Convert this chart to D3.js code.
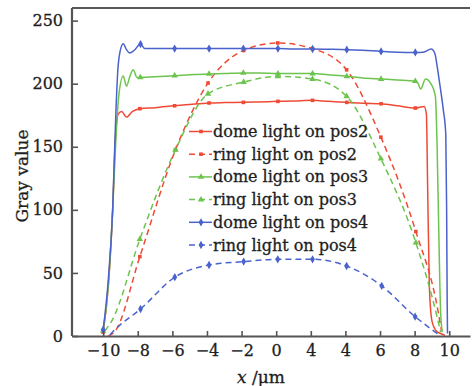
<!DOCTYPE html>
<html>
<head>
<meta charset="utf-8">
<script src="https://cdn.jsdelivr.net/npm/d3@7"></script>
<style>
  html, body { margin: 0; padding: 0; background: #fff; }
  svg { display: block; }
  text { font-family: "DejaVu Serif", "Liberation Serif", serif; fill: #1e1e1e; stroke: #1e1e1e; stroke-width: 0.3px; }
</style>
</head>
<body>
<svg id="chart" width="476" height="386"></svg>
<script>
// Gray-value profiles across the feature, x in µm
const xTicks = [-10, -8, -6, -4, -2, 0, 2, 4, 6, 8, 10];
const xTickLabels = ["\u221210", "\u22128", "\u22126", "\u22124", "\u22122", "0", "4", "4", "6", "8", "10"];
const yTicks = [0, 50, 100, 150, 200, 250];

// dome light on pos2
const domePos2X = [-10, -9.7, -9.45, -9.3, -9.13, -8.93, -8.65, -8.3, -7.88, -7, -5.87, -5, -3.88, -3, -1.9, -1, 0.1, 1, 2.1, 3, 4.08, 5, 6.06, 7, 8.04, 8.55, 8.68, 8.75, 8.85, 9.0, 9.25, 9.5, 9.75];
const domePos2Y = [3, 40, 100, 155, 176, 178, 173.5, 178, 180.2, 181, 182.5, 183.5, 184.7, 185, 185.2, 185.5, 186, 186.3, 186.8, 186, 185.2, 184.5, 184.1, 182.5, 180.7, 182, 176, 120, 40, 12, 4, 2, 0.5];

// ring light on pos2
const ringPos2X = [-9.7, -9.3, -7.88, -5.82, -3.94, -1.88, 0.09, 2.1, 4.07, 6.05, 8.07, 9.35, 9.55];
const ringPos2Y = [0, 4, 62.9, 147.6, 200.5, 226.4, 232.3, 227.8, 211, 157.6, 82.8, 20, 4];

// dome light on pos3
const domePos3X = [-10, -9.7, -9.45, -9.25, -9.1, -8.84, -8.65, -8.45, -8.26, -8.05, -7.85, -7, -5.87, -5, -3.88, -3, -1.9, -1, 0.1, 1, 2.1, 3, 4.08, 5, 6.06, 7, 8.04, 8.2, 8.35, 8.63, 8.92, 9.2, 9.3, 9.4, 9.5, 9.6];
const domePos3Y = [4, 40, 100, 160, 190, 206, 198, 206, 211, 205, 205, 205.5, 206.3, 207, 207.7, 208, 208.5, 208.5, 208, 208, 208, 207, 205.8, 204.5, 203.7, 203, 202, 200, 195.8, 203.7, 200.5, 190, 150, 80, 20, 3];

// ring light on pos3
const ringPos3X = [-9.9, -9.5, -7.88, -5.82, -3.94, -1.88, 0.09, 2.1, 4.07, 6.05, 8.07, 9.3, 9.5];
const ringPos3Y = [4, 12, 76.7, 147.6, 192, 201.3, 205.8, 203.7, 190, 140.5, 74, 15, 3];

// dome light on pos4
const domePos4X = [-10, -9.7, -9.45, -9.26, -9.15, -9.03, -8.84, -8.65, -8.47, -8.2, -7.84, -7.59, -7, -5.87, -5, -3.88, -3, -1.9, -1, 0.1, 1, 2.1, 3, 4.08, 5, 6.06, 7, 8.04, 8.5, 8.96, 9.17, 9.3, 9.45, 9.65, 9.8, 9.85, 9.88, 9.9];
const domePos4Y = [5, 45, 100, 179, 211, 225, 231.7, 227, 224.4, 226.5, 231.4, 227.8, 227.8, 227.8, 227.8, 227.8, 227.8, 227.8, 227.8, 227.8, 227.5, 227.5, 227.3, 227, 226.5, 225.6, 225, 224.8, 225, 227.5, 224, 214, 200, 180, 160, 100, 30, 2];

// ring light on pos4
const ringPos4X = [-9.6, -9.4, -7.84, -5.86, -3.88, -1.88, 0.09, 2.1, 4.07, 6.1, 8.03, 9.4];
const ringPos4Y = [1, 4, 21.4, 46.6, 56.3, 59, 60.8, 60.8, 55.5, 39.7, 15.3, 1];

// x positions that carry a marker symbol
const domeMarkX = [-10, -7.88, -7.85, -7.84, -5.87, -3.88, -1.9, 0.1, 2.1, 4.08, 6.06, 8.04];
const ringMarkX = [-7.88, -7.84, -5.82, -5.86, -3.94, -3.88, -1.88, 0.09, 2.1, 4.07, 6.05, 6.1, 8.07, 8.03];

const seriesNames = ["dome light on pos2", "ring light on pos2", "dome light on pos3", "ring light on pos3", "dome light on pos4", "ring light on pos4"];
const seriesColors = ["#ef4a35", "#ef4a35", "#6cc44e", "#6cc44e", "#4a62cc", "#4a62cc"];
const seriesDashed = [false, true, false, true, false, true];
const seriesSymbols = [d3.symbolSquare, d3.symbolSquare, d3.symbolTriangle, d3.symbolTriangle, d3.symbolDiamond, d3.symbolDiamond];
const seriesX = [domePos2X, ringPos2X, domePos3X, ringPos3X, domePos4X, ringPos4X];
const seriesY = [domePos2Y, ringPos2Y, domePos3Y, ringPos3Y, domePos4Y, ringPos4Y];

const svg = d3.select("#chart");
const plotLeft = 72, plotRight = 470, plotTop = 8, plotBottom = 336;

const x = d3.scaleLinear().domain([-11.8, 11.2]).range([plotLeft, plotRight]);
const y = d3.scaleLinear().domain([0, 260]).range([plotBottom, plotTop]);

svg.append("defs").append("clipPath").attr("id", "plotClip")
  .append("rect").attr("x", plotLeft).attr("y", plotTop)
  .attr("width", plotRight - plotLeft).attr("height", plotBottom - plotTop);

// top frame line
svg.append("line")
  .attr("x1", plotLeft).attr("x2", plotRight).attr("y1", plotTop).attr("y2", plotTop)
  .attr("stroke", "#222").attr("stroke-width", 1.6);

const line = d3.line().x(d => x(d[0])).y(d => y(d[1])).curve(d3.curveMonotoneX);
const plot = svg.append("g").attr("clip-path", "url(#plotClip)");

const symbolSize = [13, 13, 18, 18, 20, 20];

seriesNames.forEach((name, i) => {
  const pts = seriesX[i].map((v, k) => [v, seriesY[i][k]]);
  plot.append("path")
    .datum(pts)
    .attr("d", line)
    .attr("fill", "none")
    .attr("stroke", seriesColors[i])
    .attr("stroke-width", 1.5)
    .attr("stroke-dasharray", seriesDashed[i] ? "6,4" : null);
  const marks = seriesDashed[i] ? ringMarkX : domeMarkX;
  const mpts = pts.filter(p => marks.includes(p[0]));
  plot.selectAll(null).data(mpts).enter().append("path")
    .attr("d", d3.symbol().type(seriesSymbols[i]).size(symbolSize[i]))
    .attr("transform", d => `translate(${x(d[0])},${y(d[1])})`)
    .attr("fill", seriesColors[i]);
});

// axes
const axisColor = "#555";
const yAxis = svg.append("g").attr("transform", `translate(${plotLeft},0)`)
  .call(d3.axisLeft(y).tickValues(yTicks).tickSize(-6).tickSizeOuter(0).tickPadding(9));
const xAxis = svg.append("g").attr("transform", `translate(0,${plotBottom})`)
  .call(d3.axisBottom(x).tickValues(xTicks).tickFormat((d, i) => xTickLabels[i]).tickSize(-5).tickSizeOuter(0).tickPadding(9));

[yAxis, xAxis].forEach(g => {
  g.select(".domain").attr("stroke", axisColor).attr("stroke-width", 2.2);
  g.selectAll(".tick line").attr("stroke", axisColor).attr("stroke-width", 1.6);
  g.selectAll(".tick text")
    .attr("font-family", '"DejaVu Serif", serif')
    .attr("font-size", 16)
    .attr("fill", "#1e1e1e");
});
// left axis spans the full frame height
yAxis.select(".domain").attr("d", `M0,${plotBottom}V${plotTop}`);

// axis titles
svg.append("text")
  .attr("transform", `translate(22,176) rotate(-90)`)
  .attr("text-anchor", "middle")
  .attr("dominant-baseline", "central")
  .attr("font-size", 17)
  .text("Gray value");

const xt = svg.append("text")
  .attr("x", 261).attr("y", 383)
  .attr("text-anchor", "middle")
  .attr("font-size", 17);
xt.append("tspan").attr("font-style", "italic").text("x");
xt.append("tspan").text(" /\u03bcm");

// legend
const legend = svg.append("g");
seriesNames.forEach((name, i) => {
  const cy = 131.5 + i * 22.7;
  legend.append("line")
    .attr("x1", 189).attr("x2", 212).attr("y1", cy).attr("y2", cy)
    .attr("stroke", seriesColors[i]).attr("stroke-width", 1.5)
    .attr("stroke-dasharray", seriesDashed[i] ? "6,4" : null);
  legend.append("path")
    .attr("d", d3.symbol().type(seriesSymbols[i]).size(symbolSize[i]))
    .attr("transform", `translate(201,${cy})`)
    .attr("fill", seriesColors[i]);
  legend.append("text")
    .attr("x", 213).attr("y", cy)
    .attr("dominant-baseline", "central")
    .attr("font-size", 16)
    .text(name);
});
</script>
</body>
</html>
